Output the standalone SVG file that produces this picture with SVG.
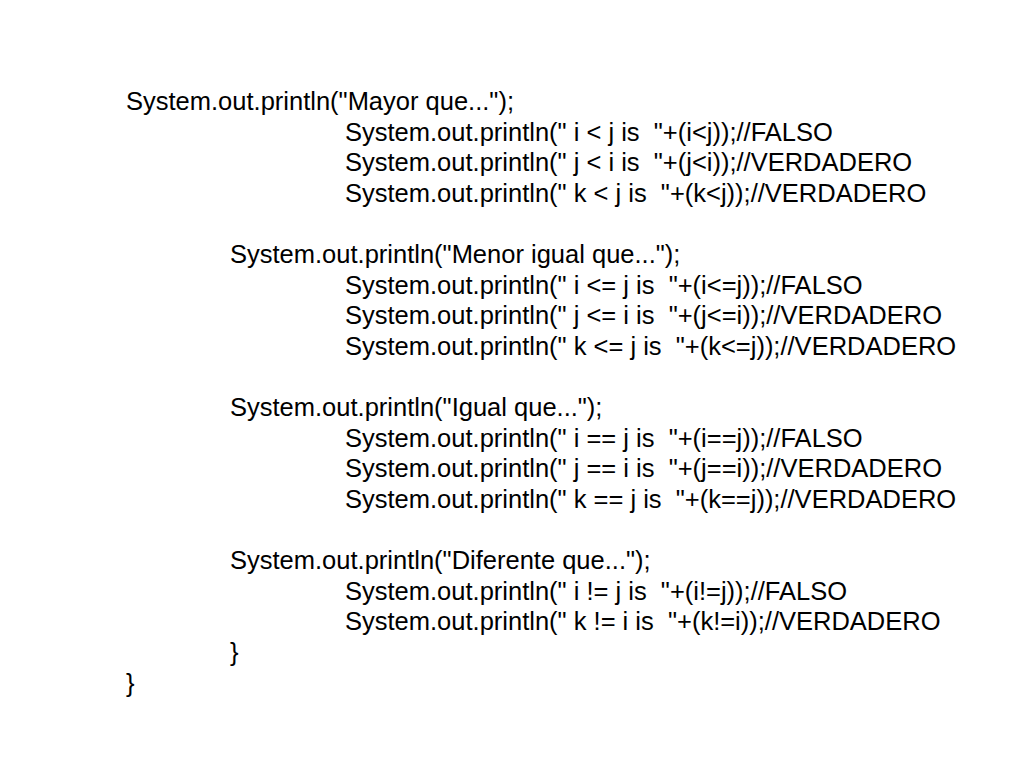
<svg xmlns="http://www.w3.org/2000/svg" width="1024" height="768" viewBox="0 0 1024 768">
<style>text{font-family:"Liberation Sans",Arial,sans-serif;font-size:25.5px;fill:#000;white-space:pre}</style>
<rect width="1024" height="768" fill="#fff"/>
<g id="code" xml:space="preserve">
<text x="126" y="110">System.out.println("Mayor que...");</text>
<text x="345" y="141">System.out.println(" i &lt; j is  "+(i&lt;j));//FALSO</text>
<text x="345" y="171">System.out.println(" j &lt; i is  "+(j&lt;i));//VERDADERO</text>
<text x="345" y="202">System.out.println(" k &lt; j is  "+(k&lt;j));//VERDADERO</text>
<text x="230" y="263">System.out.println("Menor igual que...");</text>
<text x="345" y="294">System.out.println(" i &lt;= j is  "+(i&lt;=j));//FALSO</text>
<text x="345" y="324">System.out.println(" j &lt;= i is  "+(j&lt;=i));//VERDADERO</text>
<text x="345" y="355">System.out.println(" k &lt;= j is  "+(k&lt;=j));//VERDADERO</text>
<text x="230" y="416">System.out.println("Igual que...");</text>
<text x="345" y="447">System.out.println(" i == j is  "+(i==j));//FALSO</text>
<text x="345" y="477">System.out.println(" j == i is  "+(j==i));//VERDADERO</text>
<text x="345" y="508">System.out.println(" k == j is  "+(k==j));//VERDADERO</text>
<text x="230" y="569">System.out.println("Diferente que...");</text>
<text x="345" y="600">System.out.println(" i != j is  "+(i!=j));//FALSO</text>
<text x="345" y="630">System.out.println(" k != i is  "+(k!=i));//VERDADERO</text>
<text x="230" y="661">}</text>
<text x="126" y="692">}</text>
</g>
</svg>
